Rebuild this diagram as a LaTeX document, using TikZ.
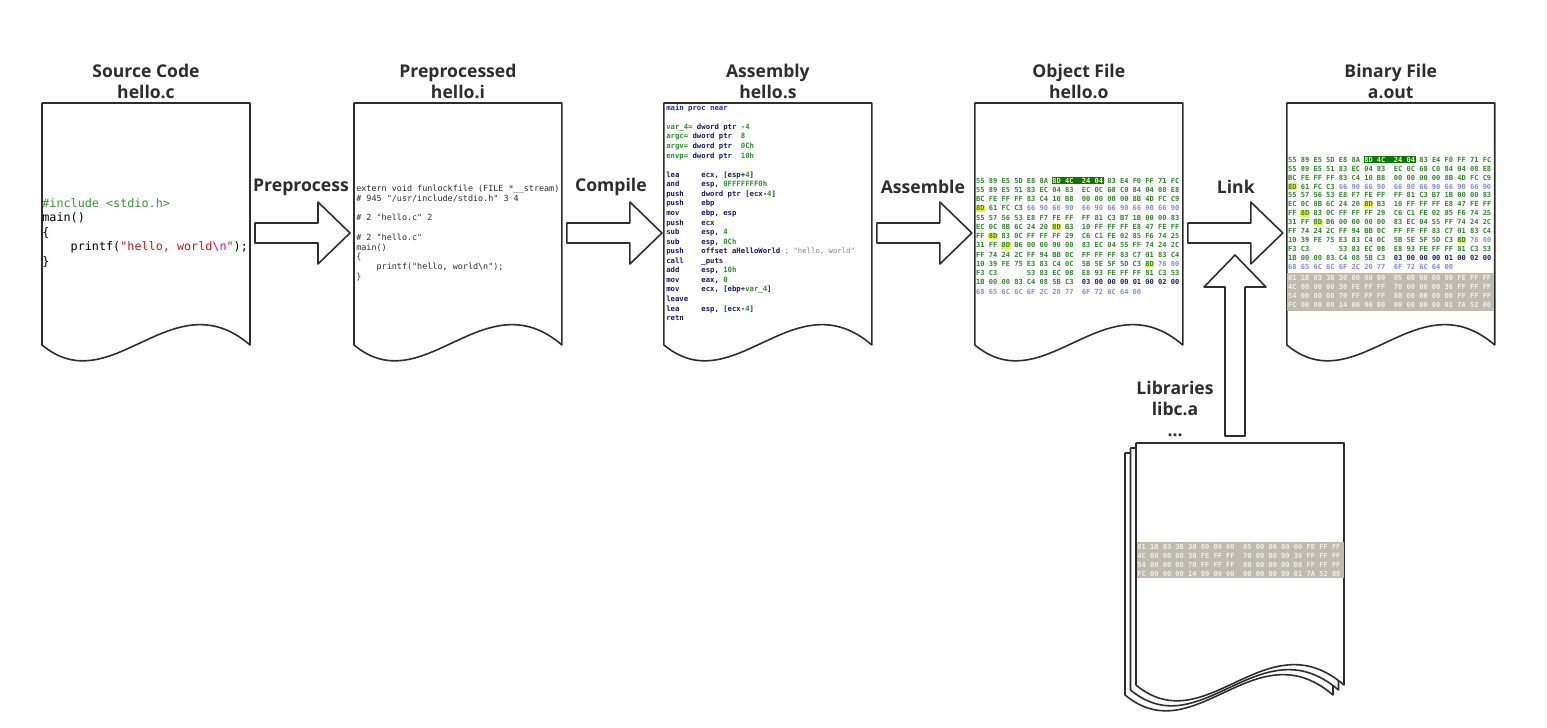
\documentclass[tikz,border=0pt]{standalone}
\usepackage{fontspec}
\setmainfont{Open Sans}
\setmonofont{DejaVu Sans Mono}
\usetikzlibrary{positioning,calc}

\definecolor{edge}{RGB}{45,45,45}
\definecolor{srcgreen}{RGB}{50,150,50}
\definecolor{srcred}{RGB}{200,25,25}
\definecolor{srcpink}{RGB}{220,0,220}
\definecolor{hexgreen}{RGB}{45,135,40}
\definecolor{hexblue}{RGB}{135,135,225}
\definecolor{hexnavy}{RGB}{25,25,120}
\definecolor{hlyellow}{RGB}{240,240,70}
\definecolor{hlgreen}{RGB}{10,120,10}
\definecolor{bandgray}{RGB}{190,186,176}
\definecolor{bandtext}{RGB}{242,240,232}
\definecolor{asmblue}{RGB}{40,40,190}
\definecolor{asmnavy}{RGB}{25,25,110}
\definecolor{asmgreen}{RGB}{40,145,40}
\definecolor{asmcomment}{RGB}{130,130,130}

\newcommand{\hexyl}[1]{\kern-0.3pt\relax{\fboxsep=0.3pt\colorbox{hlyellow}{#1}}\kern-0.3pt\relax}
\newcommand{\hexgr}[1]{\kern-0.3pt\relax{\fboxsep=0.3pt\colorbox{hlgreen}{\color{hlyellow!50!white}#1}}\kern-0.3pt\relax}
\newcommand{\hexbl}[1]{{\color{hexblue}#1}}
\newcommand{\hexnv}[1]{{\color{hexnavy}#1}}
\newcommand{\asmgr}[1]{{\color{asmgreen}#1}}

% hex dump shared by hello.o and a.out
\newcommand{\hexrows}{%
55 89 E5 5D E8 8A \hexgr{8D 4C~~24 04} 83 E4 F0 FF 71 FC\\
55 89 E5 51 83 EC 04 83~~EC 0C 68 C0 84 04 08 E8\\
BC FE FF FF 83 C4 10 B8~~00 00 00 00 8B 4D FC C9\\
\hexyl{8D} 61 FC C3 \hexbl{66 90 66 90~~66 90 66 90 66 90 66 90}\\
55 57 56 53 E8 F7 FE FF~~FF 81 C3 B7 1B 00 00 83\\
EC 0C 8B 6C 24 20 \hexyl{8D} B3~~10 FF FF FF E8 47 FE FF\\
FF \hexyl{8D} 83 0C FF FF FF 29~~C6 C1 FE 02 85 F6 74 25\\
31 FF \hexyl{8D} B6 00 00 00 00~~83 EC 04 55 FF 74 24 2C\\
FF 74 24 2C FF 94 BB 0C~~FF FF FF 83 C7 01 83 C4\\
10 39 FE 75 E3 83 C4 0C~~5B 5E 5F 5D C3 \hexyl{8D} \hexbl{76 00}\\
F3 C3~~~~~~~53 83 EC 08~~E8 93 FE FF FF 81 C3 53\\
1B 00 00 83 C4 08 5B C3~~\hexnv{03 00 00 00 01 00 02 00}\\
\hexbl{68 65 6C 6C 6F 2C 20 77~~6F 72 6C 64 00}}
% grey block, also in libc.a
\newcommand{\bandrows}{%
01 1B 03 3B 30 00 00 00~~05 00 00 00 00 FE FF FF\\
4C 00 00 00 30 FE FF FF~~70 00 00 00 36 FF FF FF\\
54 00 00 00 70 FF FF FF~~80 00 00 00 D0 FF FF FF\\
FC 00 00 00 14 00 00 00~~00 00 00 00 01 7A 52 00}
% page with a wavy bottom: node name, offset
\newcommand{\pageoutline}[2]{($(#1.south west)+(#2)$) -- ($(#1.north west)+(#2)$) -- ($(#1.north east)+(#2)$) -- ($(#1.south east)+(#2)$) .. controls +(-78,-67) and +(70,58) .. ($(#1.south west)+(#2)$) -- cycle}

\begin{document}
\begin{tikzpicture}[x=0.02cm, y=-0.02cm,
  doc/.style={minimum width=4.16cm, minimum height=4.84cm, inner sep=0pt, outer sep=0pt},
  docedge/.style={draw=edge, line width=0.9pt, fill=white, line join=round},
  doctitle/.style={font=\fontsize{10}{12}\selectfont\bfseries, text=edge, align=center, inner sep=0pt},
  steplabel/.style={font=\fontsize{10}{12}\selectfont\bfseries, text=edge, inner sep=0pt},
  srccode/.style={font=\ttfamily\fontsize{6.7}{8.2}\selectfont, align=left, inner sep=0pt, anchor=north west},
  ppcode/.style={font=\ttfamily\fontsize{4.8}{5.53}\selectfont, text=edge, align=left, inner sep=0pt, anchor=north west},
  asmcode/.style={font=\ttfamily\bfseries\fontsize{4.15}{5.44}\selectfont, text=asmnavy, align=left, inner sep=0pt, anchor=north west},
  hexcode/.style={font=\ttfamily\bfseries\fontsize{4}{#1}\selectfont, text=hexgreen, align=left, inner sep=0pt, anchor=north west},
  hexcode/.default=5.27pt,
  pics/barrow/.style={code={\draw[docedge] (0,-10) -- (#1-32,-10) -- (#1-32,-31) -- (#1,0) -- (#1-32,31) -- (#1-32,10) -- (0,10) -- cycle;}}]
\useasboundingbox (0,0) rectangle (1547,727);
% Pages
\node[doc] (src) at (146,224) {};
\node[doc, right=2.08cm of src] (pre) {};
\node[doc, right=2.04cm of pre] (asm) {};
\node[doc, right=2.06cm of asm] (obj) {};
\node[doc, right=2.08cm of obj] (bin) {};
\node[doc] (lib) at (1240,564) {};
\foreach \p in {src,pre,asm,obj,bin} \draw[docedge] \pageoutline{\p}{0,0};
\draw[docedge] \pageoutline{lib}{-11,10};
\draw[docedge] \pageoutline{lib}{-5.5,5};
\draw[docedge] \pageoutline{lib}{0,0};
% Titles
\node[doctitle, above=2pt of src] (srcname) {Source Code\\hello.c};
\node[doctitle, above=2pt of pre] (prename) {Preprocessed\\hello.i};
\node[doctitle, above=2pt of asm] (asmname) {Assembly\\hello.s};
\node[doctitle, above=2pt of obj] (objname) {Object File\\hello.o};
\node[doctitle, above=2pt of bin] (binname) {Binary File\\a.out};
\node[doctitle, anchor=south] (libname) at ($(lib.north west)+(39,-6)$) {Libraries\\libc.a\\...};
% Steps
\pic at ($(src.east)+(5,9)$) {barrow=95};
\pic at ($(pre.east)+(5,9)$) {barrow=95};
\pic at ($(asm.east)+(5,9)$) {barrow=95};
\pic at ($(obj.east)+(5,9)$) {barrow=95};
\pic[rotate=90] at ($(lib.north)+(-5,-7)$) {barrow=181};
\node[steplabel] (pp) at ($(src.east)+(51,-37)$) {Preprocess};
\node[steplabel] (cc) at ($(pre.east)+(49,-37)$) {Compile};
\node[steplabel] (as) at ($(asm.east)+(51,-37)$) {Assemble};
\node[steplabel] (ld) at ($(obj.east)+(53,-37)$) {Link};
% File contents
\node[srccode] (srctext) at ($(src.north west)+(0,95)$) {%
{\color{srcgreen}\#include <stdio.h>}\\
main()\\
\{\\
\null~~~~printf({\color{srcred}"hello, world}{\color{srcpink}\textbackslash n}{\color{srcred}"});\\
\}};
\node[ppcode] (pretext) at ($(pre.north west)+(2,82)$) {%
extern void funlockfile (FILE *\_\_stream)\\
\# 945 "/usr/include/stdio.h" 3 4\\
\null\\
\# 2 "hello.c" 2\\
\null\\
\# 2 "hello.c"\\
main()\\
\{\\
\null~~~~printf("hello, world\textbackslash n");\\
\}};
\node[asmcode] (asmtext) at ($(asm.north west)+(2,1)$) {%
{\color{asmblue}main proc near}\\
\null\\
\asmgr{var\_4=} dword ptr \asmgr{-4}\\
\asmgr{argc=} dword ptr~~\asmgr{8}\\
\asmgr{argv=} dword ptr~~\asmgr{0Ch}\\
\asmgr{envp=} dword ptr~~\asmgr{10h}\\
\null\\
lea~~~~~ecx, [esp+\asmgr{4}]\\
and~~~~~esp, \asmgr{0FFFFFFF0h}\\
push~~~~dword ptr [ecx-\asmgr{4}]\\
push~~~~ebp\\
mov~~~~~ebp, esp\\
push~~~~ecx\\
sub~~~~~esp, \asmgr{4}\\
sub~~~~~esp, \asmgr{0Ch}\\
push~~~~offset aHelloWorld {\color{asmcomment}\mdseries; "hello, world"}\\
call~~~~\_puts\\
add~~~~~esp, \asmgr{10h}\\
mov~~~~~eax, \asmgr{0}\\
mov~~~~~ecx, [ebp+\asmgr{var\_4}]\\
leave\\
lea~~~~~esp, [ecx-\asmgr{4}]\\
retn};
\node[hexcode] (objtext) at ($(obj.north west)+(1,74)$) {\hexrows};
\node[hexcode=5.1pt] (bintext) at ($(bin.north west)+(1,53)$) {\hexrows};
\fill[bandgray] ($(bin.north west)+(0.5,170)$) rectangle ($(bin.north east)+(-0.5,208)$);
\node[hexcode=5.1pt, text=bandtext] (binband) at ($(bin.north west)+(1,172)$) {\bandrows};
\fill[bandgray] ($(lib.north west)+(0.5,99)$) rectangle ($(lib.north east)+(-0.5,135)$);
\node[hexcode=5.1pt, text=bandtext] (libband) at ($(lib.north west)+(1,101)$) {\bandrows};
\end{tikzpicture}
\end{document}
